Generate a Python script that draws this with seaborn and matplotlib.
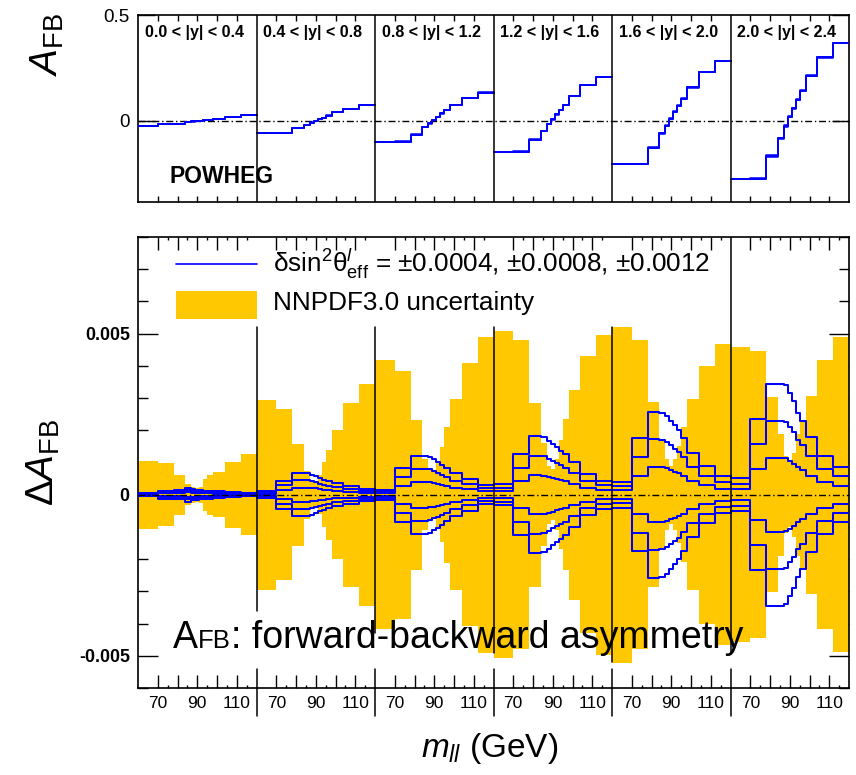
import numpy as np
import matplotlib
matplotlib.use("Agg")
import matplotlib.pyplot as plt
import seaborn as sns
from matplotlib import font_manager
from matplotlib.patches import Rectangle
import matplotlib.transforms as mtransforms

# ---------------------------------------------------------------- data
mass_edges = [60, 70, 78, 84, 87, 89, 91, 93, 95, 98, 104, 112, 120]
rapidity_labels = ["0.0 < |y| < 0.4", "0.4 < |y| < 0.8", "0.8 < |y| < 1.2",
                   "1.2 < |y| < 1.6", "1.6 < |y| < 2.0", "2.0 < |y| < 2.4"]
mass_tick_labels = ["70", "", "90", "", "110"]

# POWHEG forward-backward asymmetry per mass bin
afb_r1 = [-0.025, -0.016, -0.015, -0.007, -0.004, -0.002, 0.000, 0.002, 0.005, 0.006, 0.016, 0.025]
afb_r2 = [-0.060, -0.060, -0.036, -0.020, -0.009, 0.000, 0.006, 0.013, 0.024, 0.041, 0.057, 0.076]
afb_r3 = [-0.099, -0.099, -0.066, -0.031, -0.013, 0.003, 0.017, 0.034, 0.051, 0.075, 0.109, 0.133]
afb_r4 = [-0.150, -0.147, -0.091, -0.049, -0.016, 0.006, 0.030, 0.050, 0.074, 0.117, 0.168, 0.205]
afb_r5 = [-0.207, -0.205, -0.128, -0.060, -0.025, 0.008, 0.043, 0.070, 0.104, 0.158, 0.229, 0.283]
afb_r6 = [-0.276, -0.276, -0.167, -0.084, -0.025, 0.019, 0.059, 0.098, 0.142, 0.213, 0.299, 0.367]

# NNPDF3.0 uncertainty on A_FB (units of 1e-3)
pdf_unc_r1 = [1.06, 0.97, 0.62, 0.32, 0.25, 0.22, 0.25, 0.50, 0.62, 0.70, 1.02, 1.25]
pdf_unc_r2 = [2.95, 2.66, 1.58, 0.75, 0.45, 0.40, 0.60, 1.00, 1.40, 2.00, 2.85, 3.45]
pdf_unc_r3 = [4.17, 3.85, 2.33, 1.10, 0.80, 0.75, 1.00, 1.47, 2.11, 2.97, 4.08, 4.90]
pdf_unc_r4 = [5.07, 4.80, 2.85, 1.60, 0.90, 0.80, 1.10, 1.70, 2.35, 3.26, 4.30, 4.97]
pdf_unc_r5 = [5.22, 4.80, 2.87, 1.70, 1.10, 0.90, 1.10, 1.50, 2.10, 2.97, 4.00, 4.68]
pdf_unc_r6 = [4.57, 4.45, 3.03, 1.90, 1.20, 1.00, 1.30, 1.90, 2.30, 3.07, 4.17, 4.89]

# change of A_FB for a shift of sin^2(theta_eff) by 0.0012 (units of 1e-3)
dafb_r1 = [0.04, 0.12, 0.14, 0.22, 0.17, 0.15, 0.14, 0.13, 0.12, 0.10, 0.07, 0.05]
dafb_r2 = [0.10, 0.43, 0.67, 0.67, 0.62, 0.58, 0.52, 0.47, 0.42, 0.35, 0.28, 0.18]
dafb_r3 = [0.15, 0.84, 1.21, 1.21, 1.18, 1.10, 1.02, 0.93, 0.83, 0.66, 0.50, 0.30]
dafb_r4 = [0.33, 1.26, 1.81, 1.78, 1.68, 1.57, 1.47, 1.37, 1.26, 1.00, 0.64, 0.43]
dafb_r5 = [0.40, 1.76, 2.58, 2.55, 2.45, 2.30, 2.15, 2.00, 1.75, 1.30, 0.88, 0.57]
dafb_r6 = [0.52, 2.35, 3.44, 3.44, 3.40, 3.15, 2.90, 2.55, 2.30, 1.78, 1.21, 0.85]
dafb_reference_shift = 0.0012

dsin2_values = [0.0004, 0.0008, 0.0012]

afb_sets = [afb_r1, afb_r2, afb_r3, afb_r4, afb_r5, afb_r6]
pdf_sets = [pdf_unc_r1, pdf_unc_r2, pdf_unc_r3, pdf_unc_r4, pdf_unc_r5, pdf_unc_r6]
dafb_sets = [dafb_r1, dafb_r2, dafb_r3, dafb_r4, dafb_r5, dafb_r6]

# ---------------------------------------------------------------- style
sns.set_theme(style="ticks")
names = {f.name for f in font_manager.fontManager.ttflist}
base_font = "Liberation Sans" if "Liberation Sans" in names else "DejaVu Sans"
narrow_font = "Liberation Sans Narrow" if "Liberation Sans Narrow" in names else base_font
plt.rcParams["font.family"] = [base_font, "DejaVu Sans"]
plt.rcParams["mathtext.fontset"] = "custom"
plt.rcParams["mathtext.rm"] = base_font
plt.rcParams["mathtext.it"] = base_font + ":italic"
plt.rcParams["mathtext.bf"] = base_font + ":bold"
for key in ("text.color", "axes.labelcolor", "xtick.color", "ytick.color", "axes.edgecolor"):
    plt.rcParams[key] = "black"

YELLOW = "#FFC800"
BLUE = "#0000FF"
W, H = 856, 775
n_reg = 6
span = 60.0

fig = plt.figure(figsize=(W / 100, H / 100), dpi=100)
ax_top = fig.add_axes([138 / W, 1 - 202 / H, 711 / W, 187 / H])
ax_bot = fig.add_axes([138 / W, 1 - 688 / H, 711 / W, 451 / H])

edges = np.array(mass_edges, dtype=float)


def region_x(k):
    return edges + span * k


def step_line(ax, x, y, lw, zorder=3):
    yy = list(y) + [y[-1]]
    sns.lineplot(x=x, y=yy, ax=ax, drawstyle="steps-post", estimator=None,
                 sort=False, color=BLUE, lw=lw, zorder=zorder, legend=False)


# ---------------------------------------------------------------- top panel
for k in range(n_reg):
    x = region_x(k)
    afb = np.array(afb_sets[k])
    shift = np.array(dafb_sets[k]) * 1e-3
    for d in dsin2_values[-1:]:
        step_line(ax_top, x, afb + shift * d / dafb_reference_shift, 1.1)
        step_line(ax_top, x, afb - shift * d / dafb_reference_shift, 1.1)
    step_line(ax_top, x, afb, 1.4)

ax_top.axhline(0, color="black", lw=1.0, ls=(0, (5, 2, 1, 2)), zorder=2)
for k in range(1, n_reg):
    ax_top.axvline(60 + span * k, color="black", lw=1.1, zorder=4)

ax_top.set_xlim(60, 60 + span * n_reg)
ax_top.set_ylim(-0.385, 0.5)
ax_top.set_yticks([0, 0.5], ["0", "0.5"])

top_blend = mtransforms.blended_transform_factory(ax_top.transData, ax_top.transAxes)
for k in range(n_reg):
    ax_top.text(60 + span * k + 3.5, 0.905, rapidity_labels[k], transform=top_blend,
                fontsize=11.5, fontweight="bold", va="center", ha="left")
ax_top.text(76.2, 0.139, "POWHEG", transform=top_blend,
            fontsize=16.5, fontweight="bold", va="center", ha="left", zorder=1)

# ---------------------------------------------------------------- bottom panel
for k in range(n_reg):
    x = region_x(k)
    unc = np.array(pdf_sets[k]) * 1e-3
    ax_bot.stairs(unc, x, baseline=-unc, fill=True, color=YELLOW, lw=0, zorder=1)

for k in range(n_reg):
    x = region_x(k)
    shift = np.array(dafb_sets[k]) * 1e-3
    for d in dsin2_values:
        step_line(ax_bot, x, shift * d / dafb_reference_shift, 1.45)
        step_line(ax_bot, x, -shift * d / dafb_reference_shift, 1.45)

ax_bot.axhline(0, color="black", lw=1.0, ls=(0, (5, 2, 1, 2)), zorder=5)

sep_tops = [0.0052, 0.0052, 0.0052, 0.0052, 0.008]
sep_bottoms = [-0.0036, -0.0043, -0.0049, -0.0052, -0.0049]
bot_blend = mtransforms.blended_transform_factory(ax_bot.transData, ax_bot.transAxes)
for k in range(1, n_reg):
    xs = 60 + span * k
    ax_bot.plot([xs, xs], [sep_tops[k - 1], sep_bottoms[k - 1]], color="black", lw=1.1, zorder=6)
    ax_bot.plot([xs, xs], [-0.0054, -0.006], color="black", lw=1.1, zorder=6, clip_on=False)
    ax_bot.plot([xs, xs], [0, -0.062], color="black", lw=1.1, zorder=6, clip_on=False,
                transform=bot_blend)

ax_bot.set_xlim(60, 60 + span * n_reg)
ax_bot.set_ylim(-0.006, 0.008)
ax_bot.set_yticks([-0.005, 0, 0.005], ["-0.005", "0", "0.005"])
ax_bot.set_yticks(np.arange(-6, 9) * 0.001, minor=True)

# legend
leg_line_y = (494 - 263) / 32.2 * 0.001
ax_bot.plot([79.2, 120.3], [leg_line_y, leg_line_y], color=BLUE, lw=1.2, zorder=6)
ax_bot.add_patch(Rectangle((79.2, (494 - 318) / 32.2 * 0.001), 41.1, 28 / 32.2 * 0.001,
                           color=YELLOW, lw=0, zorder=6))
ax_bot.text(128.4, leg_line_y,
            r"$\mathrm{\delta sin}^{2}\mathrm{\theta}^{\mathit{l}}_{\mathrm{eff}}$ = ±0.0004, ±0.0008, ±0.0012",
            fontsize=18.8, va="center", ha="left", zorder=7)
ax_bot.text(128.4, (494 - 302) / 32.2 * 0.001, "NNPDF3.0 uncertainty",
            fontsize=18.8, va="center", ha="left", zorder=7)

# ---------------------------------------------------------------- axes cosmetics
major_x = []
minor_x = []
for k in range(n_reg):
    major_x += [70 + span * k, 80 + span * k, 90 + span * k, 100 + span * k, 110 + span * k]
    minor_x += [75 + span * k, 85 + span * k, 95 + span * k, 105 + span * k, 115 + span * k]

for ax in (ax_top, ax_bot):
    for s in ax.spines.values():
        s.set_linewidth(1.2)
        s.set_color("black")
    ax.set_xticks(major_x)
    ax.set_xticks(minor_x, minor=True)
    ax.tick_params(which="both", direction="in", top=True, right=True, color="black",
                   width=1.0)

ax_top.set_xticklabels([])
ax_top.tick_params(axis="x", which="major", length=4.5)
ax_top.tick_params(axis="x", which="minor", length=0)
ax_top.tick_params(axis="y", which="major", length=12, labelsize=13.5, pad=6)
ax_top.tick_params(axis="y", which="minor", length=0)

ax_bot.set_xticklabels(mass_tick_labels * n_reg, fontfamily=narrow_font)
ax_bot.tick_params(axis="x", which="major", length=9.5, labelsize=12.5, pad=6)
ax_bot.tick_params(axis="x", which="minor", length=2.5)
ax_bot.tick_params(axis="y", which="major", length=14.5, labelsize=12.8, pad=6)
ax_bot.tick_params(axis="y", which="minor", length=7.2)
for lab in ax_bot.get_yticklabels():
    lab.set_fontweight("bold")
for ax in (ax_top, ax_bot):
    ax.set_xlabel("")
    ax.set_ylabel("")

# ---------------------------------------------------------------- titles
fig.text(47 / W, 1 - 44 / H, r"$\mathit{A}_{\mathrm{FB}}$", rotation=90, fontsize=28,
         ha="center", va="center")
fig.text(43 / W, 1 - 462 / H, r"$\Delta\mathit{A}_{\mathrm{FB}}$", rotation=90, fontsize=28,
         ha="center", va="center")
fig.text(490 / W, 1 - 748 / H, r"$\mathit{m}_{\mathit{ll}}$ (GeV)", fontsize=24,
         ha="center", va="center")

# annotation with small-caps letters after the A
renderer = fig.canvas.get_renderer()
x_px = 173.0
for s, size in [("A", 27), ("FB", 18.5), (": forward-backward asymmetry", 27)]:
    t = fig.text(x_px / W, 1 - 648 / H, s, fontsize=size, ha="left", va="baseline", zorder=10)
    x_px += t.get_window_extent(renderer).width

fig.savefig("out.png", dpi=100)
